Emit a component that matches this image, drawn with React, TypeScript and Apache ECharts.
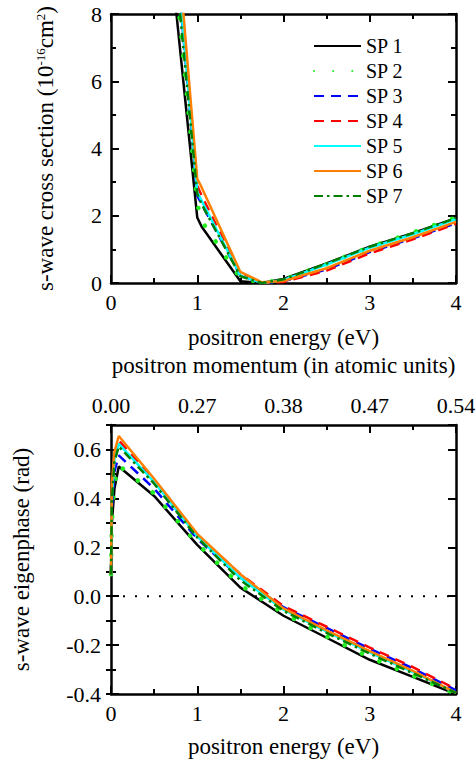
import React, { useEffect, useRef } from "react";
import * as echarts from "echarts";

// ---------- data ----------
const seriesNames = ["SP 1", "SP 2", "SP 3", "SP 4", "SP 5", "SP 6", "SP 7"];

// top panel: s-wave cross section (10^-16 cm^2) vs positron energy (eV)
const energyTop = [0.5, 1, 1.05, 1.5, 1.75, 2, 2.5, 3, 3.5, 4];
const csSP1 = [14.5, 1.95, 1.68, 0.05, 0.0, 0.12, 0.58, 1.08, 1.48, 1.93];
const csSP2 = [15.8, 2.37, 1.85, 0.14, 0.01, 0.1, 0.56, 1.07, 1.5, 1.95];
const csSP3 = [17.3, 2.6, 2.35, 0.22, 0.0, 0.05, 0.4, 0.92, 1.33, 1.78];
const csSP4 = [18.0, 2.9, 2.6, 0.28, 0.0, 0.03, 0.37, 0.88, 1.3, 1.76];
const csSP5 = [17.4, 2.7, 2.45, 0.22, 0.0, 0.09, 0.55, 1.05, 1.45, 1.9];
const csSP6 = [18.4, 3.1, 2.85, 0.33, 0.02, 0.06, 0.44, 0.96, 1.36, 1.82];
const csSP7 = [16.1, 2.65, 2.35, 0.2, 0.0, 0.11, 0.58, 1.08, 1.48, 1.93];

// bottom panel: s-wave eigenphase (rad) vs positron energy (eV)
const energyBottom = [0, 0.01, 0.04, 0.09, 0.5, 1, 1.5, 2, 2.5, 3, 3.5, 4];
const phSP1 = [0.09, 0.3, 0.44, 0.53, 0.41, 0.21, 0.035, -0.08, -0.17, -0.26, -0.33, -0.4];
const phSP2 = [0.09, 0.3, 0.46, 0.535, 0.42, 0.215, 0.045, -0.07, -0.165, -0.25, -0.325, -0.4];
const phSP3 = [0.09, 0.36, 0.51, 0.576, 0.44, 0.235, 0.075, -0.045, -0.13, -0.215, -0.295, -0.385];
const phSP4 = [0.09, 0.42, 0.57, 0.637, 0.475, 0.25, 0.09, -0.04, -0.125, -0.21, -0.29, -0.38];
const phSP5 = [0.09, 0.4, 0.56, 0.623, 0.467, 0.245, 0.075, -0.055, -0.145, -0.23, -0.31, -0.395];
const phSP6 = [0.09, 0.46, 0.59, 0.655, 0.48, 0.255, 0.09, -0.05, -0.14, -0.225, -0.305, -0.395];
const phSP7 = [0.09, 0.39, 0.55, 0.612, 0.46, 0.24, 0.065, -0.06, -0.15, -0.235, -0.315, -0.395];

// zero reference line
const zeroLineX = [0, 4];
const zeroLineY = [0, 0];

// tick labels of the momentum axis (at 0,1,2,3,4 eV)
const momentumLabels = ["0.00", "0.27", "0.38", "0.47", "0.54"];

const crossSections = [csSP1, csSP2, csSP3, csSP4, csSP5, csSP6, csSP7];
const phases = [phSP1, phSP2, phSP3, phSP4, phSP5, phSP6, phSP7];

// ---------- styles ----------
const FONT = "'Liberation Serif', 'Times New Roman', serif";
const styles = [
  { color: "#000000", type: "solid", width: 2.5, cap: "butt" },
  { color: "#22ee22", type: [0.1, 19], width: 4.5, cap: "round" },
  { color: "#0000ff", type: [10, 7], width: 2.5, cap: "butt" },
  { color: "#ff0000", type: [10, 7], width: 2.5, cap: "butt" },
  { color: "#00ffff", type: "solid", width: 2.5, cap: "butt" },
  { color: "#ff8000", type: "solid", width: 2.5, cap: "butt" },
  { color: "#008000", type: [9, 4, 2.5, 4], width: 2.5, cap: "butt" },
];

const pair = (xs: number[], ys: number[]) => xs.map((x, i) => [x, ys[i]]);

const axisLine = { show: true, onZero: false, lineStyle: { color: "#000", width: 2.5 } };
const tick = { show: true, inside: true, length: 8, lineStyle: { color: "#000", width: 2 } };
const minor = { show: true, splitNumber: 2, length: 5, lineStyle: { color: "#000", width: 2 } };
const label = { color: "#000", fontSize: 22, fontFamily: FONT };
const nameStyle = { color: "#000", fontSize: 23, fontFamily: FONT };

function xAxisDef(gridIndex: number, position: string, extra: any) {
  return {
    type: "value",
    gridIndex,
    position,
    min: 0,
    max: 4,
    interval: 1,
    axisLine,
    axisTick: tick,
    minorTick: minor,
    splitLine: { show: false },
    minorSplitLine: { show: false },
    axisLabel: { show: false },
    ...extra,
  };
}

export default function App() {
  const ref = useRef<HTMLDivElement>(null);

  useEffect(() => {
    if (!ref.current) return;
    const chart = echarts.init(ref.current, null, { renderer: "svg" });

    const topSeries = seriesNames.map((name, i) => ({
      name,
      type: "line",
      xAxisIndex: 0,
      yAxisIndex: 0,
      data: pair(energyTop, crossSections[i]),
      symbol: "none",
      clip: true,
      lineStyle: { color: styles[i].color, width: styles[i].width, type: styles[i].type, cap: styles[i].cap },
      itemStyle: { color: styles[i].color },
      z: 2 + i,
    }));
    const bottomSeries = seriesNames.map((name, i) => ({
      name,
      type: "line",
      xAxisIndex: 2,
      yAxisIndex: 2,
      data: pair(energyBottom, phases[i]),
      symbol: "none",
      clip: true,
      lineStyle: { color: styles[i].color, width: styles[i].width, type: styles[i].type, cap: styles[i].cap },
      itemStyle: { color: styles[i].color },
      z: 2 + i,
    }));

    const option: any = {
      animation: false,
      backgroundColor: "#ffffff",
      grid: [
        { left: 111, top: 14, width: 345, height: 269, containLabel: false, outerBoundsMode: "none" },
        { left: 111, top: 425, width: 345, height: 269, containLabel: false, outerBoundsMode: "none" },
      ],
      legend: {
        data: seriesNames,
        orient: "vertical",
        left: 308,
        top: 31,
        itemWidth: 47,
        itemHeight: 12,
        itemGap: 5,
        selectedMode: false,
        itemStyle: { opacity: 0 },
        textStyle: { color: "#000", fontSize: 20, fontFamily: FONT, lineHeight: 20 },
      },
      xAxis: [
        xAxisDef(0, "bottom", {
          axisLabel: { ...label, margin: 8 },
          name: "positron energy (eV)",
          nameLocation: "middle",
          nameGap: 43,
          nameTextStyle: nameStyle,
        }),
        xAxisDef(0, "top", {}),
        xAxisDef(1, "bottom", {
          axisLabel: { ...label, margin: 8 },
          name: "positron energy (eV)",
          nameLocation: "middle",
          nameGap: 41,
          nameTextStyle: nameStyle,
        }),
        xAxisDef(1, "top", {
          axisLabel: {
            ...label,
            margin: 9,
            formatter: (v: number) => momentumLabels[Math.round(v)] ?? "",
          },
          name: "positron momentum (in atomic units)",
          nameLocation: "middle",
          nameGap: 48,
          nameTextStyle: nameStyle,
        }),
      ],
      yAxis: [
        {
          type: "value",
          gridIndex: 0,
          position: "left",
          min: 0,
          max: 8,
          interval: 2,
          axisLine,
          axisTick: tick,
          minorTick: minor,
          splitLine: { show: false },
          axisLabel: { ...label, margin: 9 },
          name: "s-wave cross section (10{sup|-16}cm{sup|2})",
          nameLocation: "middle",
          nameGap: 54,
          nameTextStyle: {
            ...nameStyle,
            rich: {
              sup: { fontSize: 13, fontFamily: FONT, color: "#000", verticalAlign: "top", padding: [0, 0, 0, 0] },
            },
          },
        },
        {
          type: "value",
          gridIndex: 0,
          position: "right",
          min: 0,
          max: 8,
          interval: 2,
          axisLine,
          axisTick: tick,
          minorTick: minor,
          splitLine: { show: false },
          axisLabel: { show: false },
        },
        {
          type: "value",
          gridIndex: 1,
          position: "left",
          min: -0.4,
          max: 0.7,
          interval: 0.2,
          axisLine,
          axisTick: tick,
          splitLine: { show: false },
          axisLabel: {
            ...label,
            margin: 10,
            showMaxLabel: false,
            formatter: (v: number) => (Math.abs(v - 0.7) < 1e-6 ? "" : v.toFixed(1)),
          },
          name: "s-wave eigenphase (rad)",
          nameLocation: "middle",
          nameGap: 78,
          nameTextStyle: nameStyle,
        },
        {
          type: "value",
          gridIndex: 1,
          position: "left",
          min: -0.4,
          max: 0.7,
          interval: 0.1,
          axisLine: { show: false },
          axisTick: { ...tick, length: 5 },
          splitLine: { show: false },
          axisLabel: { show: false },
        },
        {
          type: "value",
          gridIndex: 1,
          position: "right",
          min: -0.4,
          max: 0.7,
          interval: 0.2,
          axisLine,
          axisTick: tick,
          splitLine: { show: false },
          axisLabel: { show: false },
        },
        {
          type: "value",
          gridIndex: 1,
          position: "right",
          min: -0.4,
          max: 0.7,
          interval: 0.1,
          axisLine: { show: false },
          axisTick: { ...tick, length: 5 },
          splitLine: { show: false },
          axisLabel: { show: false },
        },
      ],
      series: [
        ...topSeries,
        {
          name: "zero",
          type: "line",
          xAxisIndex: 2,
          yAxisIndex: 2,
          data: pair(zeroLineX, zeroLineY),
          symbol: "none",
          silent: true,
          lineStyle: { color: "#000", width: 2, type: [2, 10] },
          z: 1,
        },
        ...bottomSeries,
      ],
    };

    chart.setOption(option);
    return () => chart.dispose();
  }, []);

  return (
    <div
      ref={ref}
      style={{ position: "absolute", left: 0, top: 0, width: 476, height: 767, background: "#fff" }}
    />
  );
}
